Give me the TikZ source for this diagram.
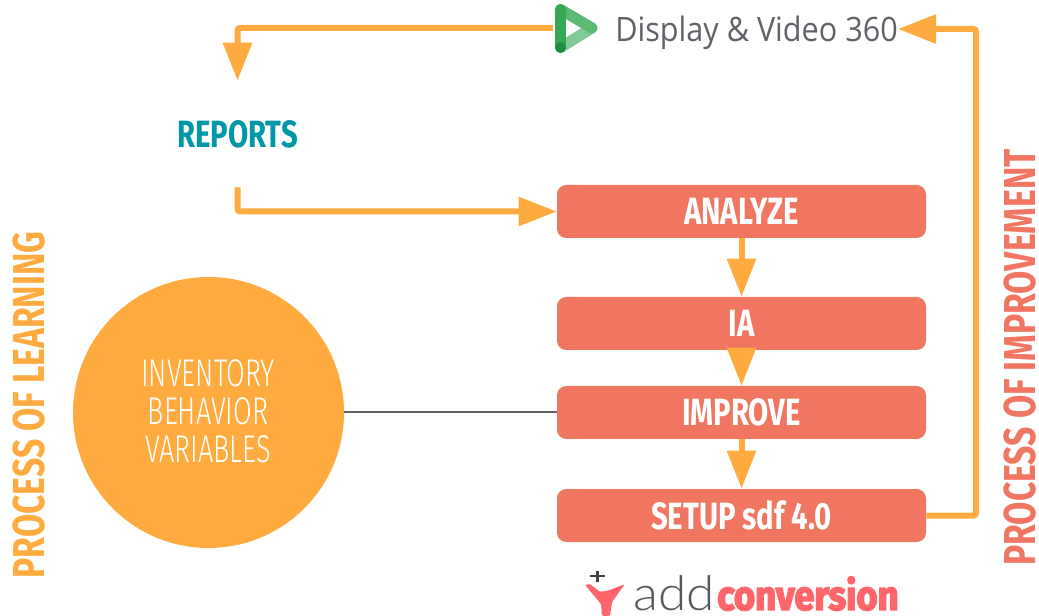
\documentclass[tikz,border=0pt]{standalone}
\usepackage{fontspec}
\usetikzlibrary{arrows.meta,calc}
\setmainfont{Fira Sans}
\newfontfamily\oswb[FakeStretch=0.77]{Fira Sans}
\newfontfamily\oswside[FakeStretch=0.755]{Fira Sans}
\newfontfamily\oswl[FakeStretch=0.70]{Fira Sans Light}
\newfontfamily\gsans[FakeStretch=0.91]{Open Sans}
\newfontfamily\laton[FakeStretch=1.07]{Lato Light}
\newfontfamily\convf[FakeBold=3.5,FakeStretch=0.88]{Fira Sans}
\definecolor{flow}{HTML}{FFAB40}
\definecolor{boxc}{HTML}{F07662}
\definecolor{teal}{HTML}{0097A7}
\definecolor{gtext}{HTML}{5F6368}
\definecolor{addred}{HTML}{FF666B}
\definecolor{lgA}{HTML}{81C995}
\definecolor{lgB}{HTML}{5BB974}
\definecolor{lgC}{HTML}{34A853}
\definecolor{lgD}{HTML}{1E8E3E}
\tikzset{
 x=0.75pt,y=-0.75pt,
 flowline/.style={draw=flow,line width=4.5pt,rounded corners=2pt,-{Triangle[length=28.5pt,width=21pt,fill=flow]}},
 stepbox/.style={fill=boxc,rounded corners=7pt,minimum width=276.75pt,minimum height=39.75pt,inner sep=0pt,text=white,font=\oswb\bfseries\fontsize{28.5}{30}\selectfont},
 sidelabel/.style={rotate=90,inner sep=0pt,font=\oswside\bfseries\fontsize{33.5}{36}\selectfont},
 circletext/.style={inner sep=0pt,text=white,font=\oswl\fontsize{29}{32}\selectfont},
}
\begin{document}
\begin{tikzpicture}
\useasboundingbox (0,0) rectangle (1039,616);
\fill[white] (0,0) rectangle (1039,616);

\node[stepbox] (analyze) at (741.5,211.5) {ANALYZE};
\node[stepbox] (ia) at (741.5,323.5) {IA};
\node[stepbox] (improve) at (741.5,412.5) {IMPROVE};
\node[stepbox] (setup) at (741.5,515.5) {SETUP sdf 4.0};

\node[circle,fill=flow,minimum size=203.25pt,inner sep=0pt] (circ) at (208.5,412.5) {};
\node[circletext] (inv) at (208,373) {INVENTORY};
\node[circletext] (beh) at (208,411) {BEHAVIOR};
\node[circletext] (var) at (208,449) {VARIABLES};

\node[inner sep=0pt,minimum height=79.5pt,text=teal,font=\oswb\bfseries\fontsize{28.5}{30}\selectfont] (reports) at (237.5,134) {REPORTS};
\node[anchor=base east,inner sep=0pt,text=gtext,font=\gsans\fontsize{25.2}{28}\selectfont] (dv) at (898,41.5) {Display \& Video 360};
\coordinate (dvin) at (898,29);
\coordinate (logo) at (553,28);

% logo
\begin{scope}[line cap=round,line width=8.25pt]
\draw[lgA] (592,28) -- (560.5,47.5);
\draw[lgB] (560.5,9.5) -- (592,28);
\draw[lgC] (560.5,9.5) -- (560.5,47.5);
\fill[lgD] (560.5,47.5) circle (4.1pt);
\end{scope}

% connectors
\draw[draw=gtext,line width=1.5pt] (circ.east) -- (improve.west);
\draw[flowline] (logo) -| (reports.north);
\draw[flowline] (reports.south) |- (analyze.west);
\draw[flowline] (analyze.south) -- (ia.north);
\draw[flowline] (ia.south) -- (improve.north);
\draw[flowline] (improve.south) -- (setup.north);
\draw[flowline] (setup.east) -| (976,29) -- (dvin);

% side labels
\node[sidelabel,text=flow] (learn) at (29,405) {PROCESS OF LEARNING};
\node[sidelabel,text=boxc] (impr) at (1020.5,357.5) {PROCESS OF IMPROVEMENT};

% addconversion logo
\fill[addred,rounded corners=1pt] (585,585) -- (590,584) -- (600,592) -- (610,590) -- (625,584) -- (612,602) -- (610,616) -- (602,616) -- (601,604) -- cycle;
\draw[draw=black!75,line width=2pt] (590,576) -- (605,576) (597.5,570.5) -- (597.5,582);
\node[anchor=base west,inner sep=0pt,text=gtext!90!black,font=\laton\fontsize{36}{38}\selectfont] (add) at (633,610) {add};
\node[anchor=base west,inner sep=0pt,text=addred,font=\convf\bfseries\fontsize{31}{34}\selectfont] (conv) at (717,610) {conversion};
\end{tikzpicture}
\end{document}
